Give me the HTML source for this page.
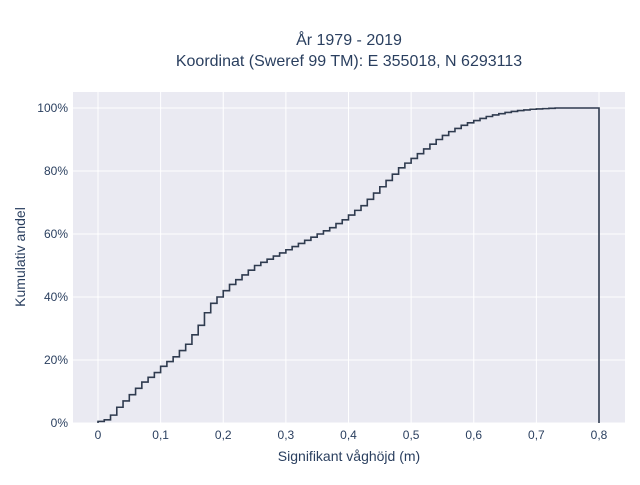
<!DOCTYPE html>
<html><head><meta charset="utf-8">
<style>
html,body{margin:0;padding:0;background:#fff;}
svg text{font-family:"Liberation Sans",sans-serif;fill:#2a3f5f;}
</style></head>
<body>
<svg id="chart" width="640" height="480" xmlns="http://www.w3.org/2000/svg">
<rect x="0" y="0" width="640" height="480" fill="#fff"/>
<text x="349" y="45" text-anchor="middle" font-size="16">År 1979 - 2019</text>
<text x="349" y="66" text-anchor="middle" font-size="16">Koordinat (Sweref 99 TM): E 355018, N 6293113</text>
<rect x="73" y="92" width="552" height="331" fill="#eaeaf2"/>
<g id="grid"></g>
<g id="ticks"></g>
<path id="line" fill="none" stroke="#2f3b4f" stroke-width="1.6"/>
<text x="349" y="461" text-anchor="middle" font-size="14">Signifikant våghöjd (m)</text>
<text transform="translate(25,257) rotate(-90)" text-anchor="middle" font-size="14">Kumulativ andel</text>
</svg>
<script>
const xTicks = [0,0.1,0.2,0.3,0.4,0.5,0.6,0.7,0.8];
const xTickLabels = ["0","0,1","0,2","0,3","0,4","0,5","0,6","0,7","0,8"];
const yTicks = [0,20,40,60,80,100];
const yTickLabels = ["0%","20%","40%","60%","80%","100%"];
const binStep = 0.01;
const cumValues = [0.5,1,2.5,5,7,9,11,13,14.5,16,18,19.5,21,23,25,28,31,35,38,40,42,44,45.5,47,48.5,50,51,52,53,54,55,56,57,58,59,60,61,62,63.3,64.5,66,67.5,69,71,73,75,77,79,81,82.5,84,85.5,87,88.5,90,91.3,92.5,93.5,94.5,95.3,96,96.7,97.3,97.8,98.2,98.6,98.9,99.2,99.4,99.6,99.7,99.8,99.9,100,100,100,100,100,100,100];

const NS="http://www.w3.org/2000/svg";
function xs(v){return 98+v*(599-98)/0.8;}
function ys(p){return 423-p*(423-108)/100;}
const grid=document.getElementById('grid'), ticks=document.getElementById('ticks');
xTicks.forEach((t,i)=>{
  const l=document.createElementNS(NS,'line');
  
  
  l.setAttribute('x1',xs(t));l.setAttribute('x2',xs(t));l.setAttribute('y1',92);l.setAttribute('y2',423);
  l.setAttribute('stroke','#fff');l.setAttribute('stroke-width','1');
  grid.appendChild(l);
  const tx=document.createElementNS(NS,'text');
  
  
  tx.setAttribute('x',xs(t));tx.setAttribute('y',439);tx.setAttribute('text-anchor','middle');tx.setAttribute('font-size','12');
  tx.textContent=xTickLabels[i];ticks.appendChild(tx);
});
yTicks.forEach((t,i)=>{
  const l=document.createElementNS(NS,'line');
  
  
  l.setAttribute('x1',73);l.setAttribute('x2',625);l.setAttribute('y1',ys(t));l.setAttribute('y2',ys(t));
  l.setAttribute('stroke','#fff');l.setAttribute('stroke-width','1');
  grid.appendChild(l);
  const tx=document.createElementNS(NS,'text');
  
  
  tx.setAttribute('x',68);tx.setAttribute('y',ys(t)+4);tx.setAttribute('text-anchor','end');tx.setAttribute('font-size','12');
  tx.textContent=yTickLabels[i];ticks.appendChild(tx);
});
let d='M'+xs(0)+','+ys(0);
cumValues.forEach((v,i)=>{
  const x0=xs(i*binStep), x1=xs((i+1)*binStep);
  d+=' L'+x0+','+ys(v)+' L'+x1+','+ys(v);
});
d+=' L'+xs(cumValues.length*binStep)+','+ys(0);
document.getElementById('line').setAttribute('d',d);
</script>
</body></html>
